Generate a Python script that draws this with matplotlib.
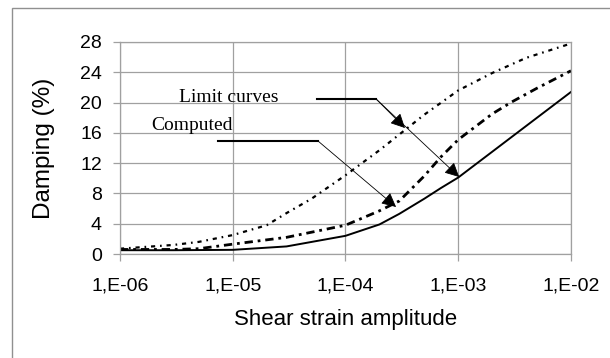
import numpy as np
import matplotlib
matplotlib.use("Agg")
import matplotlib.pyplot as plt
from matplotlib.patches import Rectangle

plt.rcParams['font.family'] = ['Liberation Sans', 'DejaVu Sans']
plt.rcParams['lines.scale_dashes'] = False

# damping curves vs shear strain (%)
strain_upper = [1e-6, 3e-6, 5e-6, 1e-5, 2e-5, 3e-5, 5e-5, 1e-4, 2e-4, 5e-4, 1e-3, 2e-3, 4e-3, 1e-2]
damp_upper = [0.7, 1.2, 1.6, 2.5, 3.8, 5.4, 7.3, 10.4, 13.7, 18.4, 21.6, 23.9, 25.9, 27.8]

strain_lower = [1e-6, 3e-6, 5e-6, 1e-5, 3e-5, 1e-4, 2e-4, 3e-4, 5e-4, 7e-4, 1e-3, 2e-3, 3e-3, 5e-3, 1e-2]
damp_lower = [0.6, 0.6, 0.7, 1.3, 2.2, 3.8, 5.7, 7.0, 10.3, 12.8, 15.1, 18.5, 20.1, 21.9, 24.2]

strain_comp = [1e-6, 3e-6, 1e-5, 3e-5, 1e-4, 2e-4, 3e-4, 5e-4, 7e-4, 1e-3, 2e-3, 5e-3, 1e-2]
damp_comp = [0.5, 0.5, 0.55, 1.0, 2.4, 3.9, 5.3, 7.3, 8.7, 10.1, 13.5, 18.0, 21.4]

xticks = [1e-6, 1e-5, 1e-4, 1e-3, 1e-2]
xtick_labels = ["1,E-06", "1,E-05", "1,E-04", "1,E-03", "1,E-02"]
yticks = [0, 4, 8, 12, 16, 20, 24, 28]

fig = plt.figure(figsize=(6.1, 3.58), dpi=100)
ax = fig.add_axes([0.1967, 0.2905, 0.7393, 0.5922])

grid_c = '#a0a0a0'
ax.plot(strain_upper, damp_upper, color='black', lw=1.6, dashes=(3, 3.5, 1.2, 3.5))
ax.plot(strain_lower, damp_lower, color='black', lw=2.0, dashes=(6, 3.5, 2, 3.5))
ax.plot(strain_comp, damp_comp, color='black', lw=1.4)

ax.set_xscale('log')
ax.set_xlim(1e-6, 1e-2)
ax.set_ylim(0, 28)
ax.set_xticks(xticks)
ax.set_xticklabels(xtick_labels)
ax.minorticks_off()
ax.set_yticks(yticks)
ax.grid(True, color=grid_c, lw=0.9)
ax.set_axisbelow(True)
for s in ax.spines.values():
    s.set_color(grid_c)
    s.set_linewidth(0.9)
ax.tick_params(axis='both', colors='black', labelsize=14, length=5, width=0.9, color=grid_c)
ax.tick_params(axis='x', pad=12)
ax.tick_params(axis='y', pad=8)

ax.set_xlabel("Shear strain amplitude", fontsize=16, labelpad=10)
ax.set_ylabel("Damping (%)", fontsize=17.5, labelpad=18)

# annotations: label, underline and leader arrows
serif = ['Liberation Serif', 'DejaVu Serif']
ax.text(3.33e-6, 20.14, "Limit curves", family=serif, fontsize=14, va='baseline')
ax.text(1.88e-6, 16.38, "Computed", family=serif, fontsize=14, va='baseline')

ax.plot([5.58e-5, 1.87e-4], [20.47, 20.47], color='black', lw=1.5)
ax.plot([7.39e-6, 5.70e-5], [14.93, 14.93], color='black', lw=1.5)

arrow = dict(arrowstyle='-|>', mutation_scale=22, lw=0.6, color='black',
             shrinkA=0, shrinkB=0)
ax.annotate("", xy=(3.37e-4, 16.64), xytext=(1.87e-4, 20.47), arrowprops=arrow)
ax.annotate("", xy=(1.02e-3, 10.17), xytext=(1.87e-4, 20.47), arrowprops=arrow)
ax.annotate("", xy=(2.81e-4, 6.21), xytext=(5.70e-5, 14.93), arrowprops=arrow)

# outer chart frame
fig.patches.append(Rectangle((12 / 610, -0.2), 2, (350 / 358) + 0.2,
                             transform=fig.transFigure, fill=False,
                             ec='#909090', lw=1))

fig.savefig("out.png", dpi=100)
